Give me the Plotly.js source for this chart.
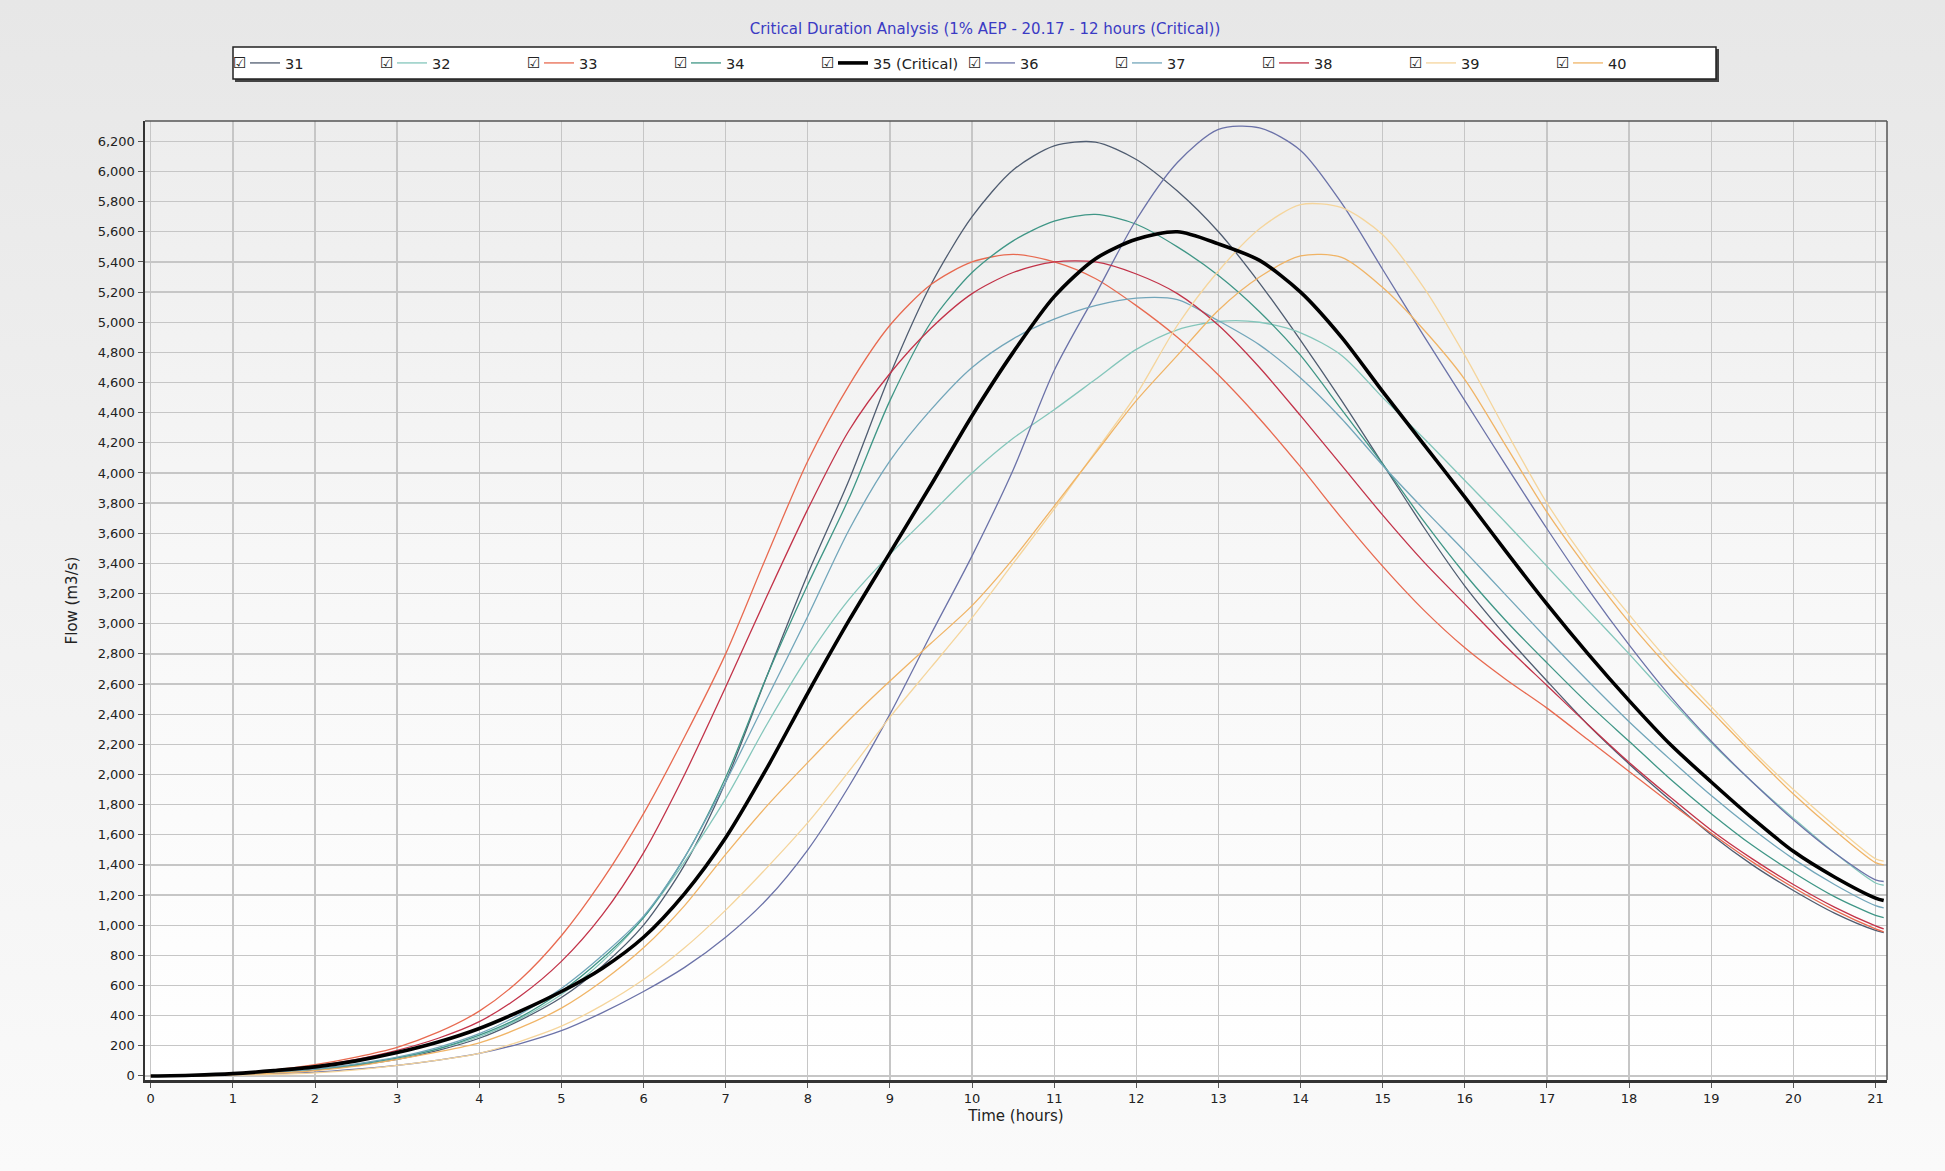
<!DOCTYPE html>
<html><head><meta charset="utf-8">
<script src="https://cdn.plot.ly/plotly-3.0.1.min.js"></script>
<style>
html,body{margin:0;padding:0;width:1945px;height:1171px;overflow:hidden;
background:linear-gradient(to bottom,#e7e7e7 0%,#f0f0f0 45%,#fafafa 100%);}
#plotbg{position:absolute;left:145px;top:121px;width:1742px;height:959px;
background:linear-gradient(to bottom,#ededed 0%,#f7f7f7 45%,#ffffff 100%);}
#chart{position:absolute;left:0;top:0;width:1945px;height:1171px;}
</style></head><body>
<div id="plotbg"></div><div id="chart"></div>
<script>
// Time axis (hours)
const time = [0,0.5,1,1.5,2,2.5,3,3.5,4,4.5,5,5.5,6,6.5,7,7.5,8,8.5,9,9.5,10,10.5,11,11.5,12,12.5,13,13.5,14,14.5,15,15.5,16,16.5,17,17.5,18,18.5,19,19.5,20,20.5,21,21.1];

// Flow (m3/s) per storm
const flow31 = [0,3,10,22,40,70,110,170,250,370,520,730,1000,1400,1950,2650,3330,3950,4650,5250,5700,6010,6170,6195,6080,5870,5600,5260,4880,4480,4060,3640,3250,2920,2620,2330,2070,1830,1600,1400,1230,1080,965,950];
const flow32 = [0,3,12,25,45,75,120,180,260,380,540,760,1050,1420,1840,2330,2780,3160,3460,3730,4000,4230,4420,4620,4820,4950,5005,5000,4930,4780,4500,4230,3950,3670,3380,3090,2800,2500,2210,1950,1710,1480,1280,1265];
const flow33 = [0,5,18,40,75,125,190,290,430,640,930,1300,1740,2250,2800,3450,4080,4580,4980,5250,5400,5450,5400,5290,5110,4900,4650,4360,4040,3700,3380,3090,2840,2630,2440,2230,2020,1810,1610,1420,1250,1100,975,955];
const flow34 = [0,3,12,25,45,75,120,180,270,390,560,780,1050,1450,1980,2650,3260,3830,4480,5000,5330,5540,5670,5715,5650,5500,5310,5070,4780,4420,4060,3680,3330,3020,2740,2470,2220,1970,1740,1530,1350,1190,1065,1050];
const flow35 = [0,5,15,35,60,100,155,225,315,430,560,715,920,1210,1580,2040,2540,3020,3470,3920,4380,4800,5170,5420,5550,5600,5520,5410,5200,4900,4540,4190,3840,3480,3130,2800,2490,2200,1950,1710,1490,1320,1180,1164];
const flow36 = [0,2,8,15,25,45,70,105,150,215,300,420,560,720,920,1170,1500,1920,2400,2930,3450,4020,4680,5180,5680,6060,6280,6290,6140,5790,5350,4910,4480,4050,3630,3230,2860,2520,2220,1950,1700,1480,1300,1290];
const flow37 = [0,3,12,25,45,80,125,190,280,410,580,800,1060,1450,1950,2500,3050,3620,4080,4420,4700,4890,5020,5110,5160,5150,5010,4850,4630,4360,4050,3760,3480,3190,2900,2620,2350,2100,1860,1640,1440,1270,1130,1115];
const flow38 = [0,4,15,35,65,110,170,250,360,530,760,1070,1480,2000,2580,3180,3760,4280,4660,4960,5190,5330,5400,5400,5320,5190,4980,4700,4380,4050,3720,3410,3130,2850,2590,2330,2080,1850,1630,1440,1270,1120,995,975];
const flow39 = [0,1,5,10,20,40,70,105,150,230,330,470,640,850,1100,1380,1680,2020,2380,2710,3040,3400,3760,4140,4520,4980,5340,5620,5780,5760,5580,5230,4780,4280,3800,3400,3060,2740,2450,2160,1900,1660,1440,1425];
const flow40 = [0,2,8,18,35,65,110,160,220,320,450,630,850,1130,1470,1790,2080,2360,2620,2870,3120,3430,3780,4130,4480,4780,5080,5300,5440,5430,5230,4950,4620,4180,3740,3360,3010,2700,2420,2140,1870,1630,1415,1400];

const seriesNames = ['31','32','33','34','35 (Critical)','36','37','38','39','40'];
const seriesFlows = [flow31,flow32,flow33,flow34,flow35,flow36,flow37,flow38,flow39,flow40];
const seriesColors = ['#4f5c70','#84c6bb','#e86a50','#3f9686','#000000','#6b72a8','#72a6ba','#c23349','#f5d59c','#f0b466'];
const criticalIndex = 4;

const titleText = 'Critical Duration Analysis (1% AEP - 20.17 - 12 hours (Critical))';
const xTitle = 'Time (hours)';
const yTitle = 'Flow (m3/s)';

// plot-area geometry (px)
const PL = 145, PR = 1887, PT = 121, PB = 1080;
const px2x = X => (X - PL) / (PR - PL);
const px2y = Y => (PB - Y) / (PB - PT);

const FONT = 'DejaVu Sans, Verdana, sans-serif';

const traces = [];
const order = [0,1,2,3,5,6,7,8,9,4]; // draw critical last (on top)
order.forEach(i => {
  const crit = i === criticalIndex;
  traces.push({
    type: 'scatter', mode: 'lines',
    x: time, y: seriesFlows[i],
    name: seriesNames[i],
    legendrank: i + 1,
    line: {color: seriesColors[i], width: crit ? 3.6 : 1.3, shape: 'spline', smoothing: 0.8},
    hoverinfo: 'skip'
  });
});

const ITEM = 147;      // legend item spacing in px
const LEG0 = 245;      // first legend item origin px
const LEGY = 63;       // legend centre line px

const annotations = seriesNames.map((n, i) => ({
  xref: 'paper', yref: 'paper',
  x: px2x(LEG0 - 6 + ITEM * i), y: px2y(LEGY),
  xanchor: 'center', yanchor: 'middle',
  text: '\u2611', showarrow: false,
  font: {family: FONT, size: 15, color: '#222'}
}));

const shapes = [
  // legend box shadow + box
  {type: 'rect', xref: 'paper', yref: 'paper', layer: 'above',
   x0: px2x(235), x1: px2x(1719), y0: px2y(82), y1: px2y(49),
   fillcolor: '#444', line: {width: 0}},
  {type: 'rect', xref: 'paper', yref: 'paper', layer: 'above',
   x0: px2x(233), x1: px2x(1716), y0: px2y(79), y1: px2y(47),
   fillcolor: '#ffffff', line: {color: '#222', width: 1.5}},
  // thin top/right frame
  {type: 'line', xref: 'paper', yref: 'paper', layer: 'above',
   x0: 0, x1: 1, y0: 1, y1: 1, line: {color: '#555', width: 1.5}},
  {type: 'line', xref: 'paper', yref: 'paper', layer: 'above',
   x0: 1, x1: 1, y0: 0, y1: 1, line: {color: '#555', width: 1.5}}
];

const layout = {
  width: 1945, height: 1171,
  margin: {l: PL, r: 1945 - PR, t: PT, b: 1171 - PB, pad: 0},
  paper_bgcolor: 'rgba(0,0,0,0)',
  plot_bgcolor: 'rgba(0,0,0,0)',
  font: {family: FONT, size: 13, color: '#222'},
  title: {text: titleText, font: {family: FONT, size: 15, color: '#3b3bc4'},
          xref: 'container', yref: 'container', x: 985 / 1945, y: 1 - 29 / 1171,
          xanchor: 'center', yanchor: 'middle'},
  showlegend: true,
  legend: {orientation: 'h', x: px2x(LEG0), xanchor: 'left', y: px2y(LEGY), yanchor: 'middle',
           bgcolor: 'rgba(0,0,0,0)', borderwidth: 0, traceorder: 'normal',
           entrywidth: ITEM - 45, entrywidthmode: 'pixels',
           font: {family: FONT, size: 14.5, color: '#222'}},
  xaxis: {
    range: [-0.07, 21.14], tick0: 0, dtick: 1, tickmode: 'linear',
    showgrid: true, gridcolor: '#c6c6c6', gridwidth: 1.3,
    zeroline: false, showline: true, linecolor: '#333', linewidth: 2.5,
    ticks: 'outside', ticklen: 5, tickcolor: '#555', tickwidth: 1,
    tickfont: {family: FONT, size: 13, color: '#222'},
    automargin: false,
    title: {text: xTitle, font: {family: FONT, size: 15, color: '#222'}, standoff: 6}
  },
  yaxis: {
    range: [-27, 6335], tick0: 0, dtick: 200, tickmode: 'linear', tickformat: ',d',
    showgrid: true, gridcolor: '#c6c6c6', gridwidth: 1.3,
    zeroline: false, showline: true, linecolor: '#333', linewidth: 2.5,
    ticks: 'outside', ticklen: 5, tickcolor: '#555', tickwidth: 1,
    tickfont: {family: FONT, size: 13, color: '#222'},
    automargin: false,
    title: {text: yTitle, font: {family: FONT, size: 15, color: '#222'}, standoff: 17}
  },
  annotations: annotations,
  shapes: shapes,
  hovermode: false
};

Plotly.newPlot('chart', traces, layout, {displayModeBar: false, staticPlot: true});
</script>
</body></html>
